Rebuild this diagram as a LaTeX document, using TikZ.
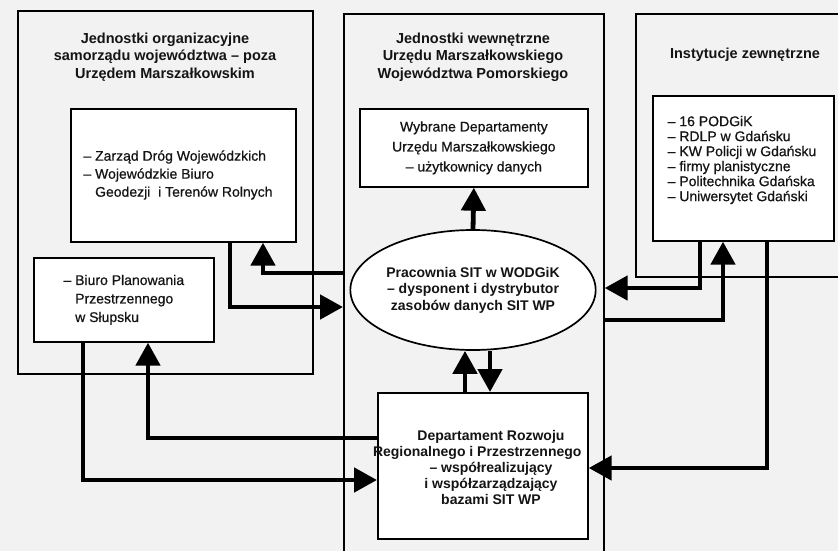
\documentclass[tikz,border=0pt]{standalone}
\usepackage{fontspec}
\setmainfont{Liberation Sans}
\newfontfamily\medfont{Liberation Sans}[FakeBold=0.6]
\usetikzlibrary{arrows.meta,shapes.geometric}
\begin{document}
\begin{tikzpicture}[x=1pt,y=-1pt,
  outer/.style={draw=black, line width=1.7pt, inner sep=0pt, anchor=north west},
  box/.style={outer, fill=white},
  ttl/.style={font=\bfseries\fontsize{14.5}{17.5}\selectfont, align=center, text=black!92},
  lst/.style={font=\medfont\fontsize{14}{18.5}\selectfont, align=left, text=black!92},
  bold/.style={font=\bfseries\fontsize{14}{16.5}\selectfont, align=center, text=black!92},
  conn/.style={draw=black, line width=4.8pt, -{Triangle[length=23pt,width=24pt]}},
]
\clip (0,0) rectangle (838,551);
\fill[black!5] (0,0) rectangle (838,551);

% outer frames
\node[outer, minimum width=295pt, minimum height=363pt] (lout) at (17,10) {};
\node[outer, minimum width=260pt, minimum height=570pt] (mid) at (343,13) {};
\node[outer, minimum width=230pt, minimum height=263pt] (rout) at (635,13) {};

% titles
\node[ttl] (ltitle) at (165,57) {Jednostki organizacyjne\\samorządu województwa – poza\\Urzędem Marszałkowskim};
\node[ttl] (mtitle) at (473,57) {Jednostki wewnętrzne\\Urzędu Marszałkowskiego\\Województwa Pomorskiego};
\node[ttl] (rtitle) at (745,55) {Instytucje zewnętrzne};

% inner boxes
\node[box, minimum width=225pt, minimum height=133pt] (zdw) at (70,108) {};
\node[lst, font=\medfont\fontsize{14}{18}\selectfont] (zdwt) at (178,175) {– Zarząd Dróg Wojewódzkich\\– Wojewódzkie Biuro\\\hphantom{–}\ Geodezji~ i Terenów Rolnych};

\node[box, lst, minimum width=180pt, minimum height=84pt] (biuro) at (33,257) {– Biuro Planowania\\\hphantom{–}\ Przestrzennego\\\hphantom{–}\ w Słupsku};

\node[box, minimum width=228pt, minimum height=78pt, font=\medfont\fontsize{14}{20}\selectfont, align=center, text=black!92] (wyb) at (359,108) {Wybrane Departamenty\\Urzędu Marszałkowskiego\\– użytkownicy danych};

\node[draw=black, ellipse, line width=1.7pt, fill=white, minimum width=231pt, minimum height=120pt, inner sep=0pt, bold] (sit) at (473,290) {Pracownia SIT w WODGiK\\– dysponent i dystrybutor\\zasobów danych SIT WP};

\node[box, minimum width=181pt, minimum height=145pt] (rin) at (652,95) {};
\node[lst, font=\medfont\fontsize{14}{15}\selectfont] (rint) at (742,160) {– 16 PODGiK\\– RDLP w Gdańsku\\– KW Policji w Gdańsku\\– firmy planistyczne\\– Politechnika Gdańska\\– Uniwersytet Gdański};

\node[box, minimum width=210pt, minimum height=146pt] (dep) at (377,392) {};
\node[bold, font=\bfseries\fontsize{14}{16}\selectfont] (dept) at (491,467) {Departament Rozwoju\\\hbox to 236pt{Regionalnego i Przestrzennego\hfil}\\– współrealizujący\\i współzarządzający\\bazami SIT WP};

% connectors
\draw[conn] (sit.north) -- (wyb.south);
\draw[conn] (mid.west |- 0,273) -| (263,0 |- zdw.south);
\draw[conn] (230,0 |- zdw.south) |- (mid.west |- 0,307);
\draw[conn] (83,0 |- biuro.south) |- (dep.west |- 0,480);
\draw[conn] (dep.west |- 0,438) -| (148,0 |- biuro.south);
\draw[conn] (465,0 |- dep.north) -- (465,0 |- sit.south);
\draw[conn] (490,0 |- sit.south) -- (490,0 |- dep.north);
\draw[conn] (700,0 |- rin.south) |- (mid.east |- 0,288);
\draw[conn] (mid.east |- 0,320) -| (723,0 |- rin.south);
\draw[conn] (767,0 |- rin.south) |- (dep.east |- 0,468);
\end{tikzpicture}
\end{document}
